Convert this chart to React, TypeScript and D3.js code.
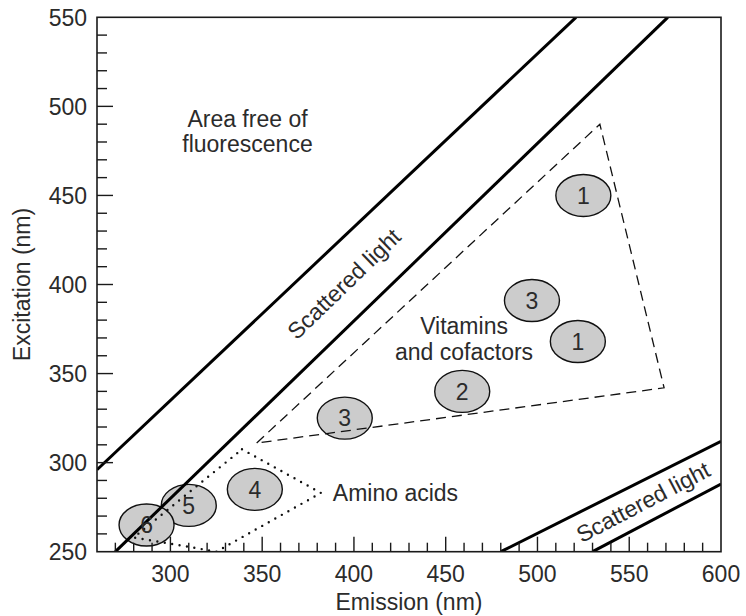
import React, { useEffect, useRef } from 'react';
import * as d3 from 'd3';

// axis ticks
const xTicks = [300, 350, 400, 450, 500, 550, 600];
const yTicks = [250, 300, 350, 400, 450, 500, 550];

// fluorophore spots (emission, excitation)
const spotLabels = ['1', '3', '1', '2', '3', '4', '5', '6'];
const spotEmission = [525, 497, 522, 459, 395, 346, 310, 287];
const spotExcitation = [450, 391, 368, 340, 325, 285, 276, 265];

// scattered light bands
const firstOrderUpper = [[260, 296], [521, 550]];
const firstOrderLower = [[270, 250], [571, 550]];
const secondOrderUpper = [[480, 250], [600, 312]];
const secondOrderLower = [[530, 250], [600, 288]];

// regions
const vitaminRegion = [[347, 311], [534, 490], [569, 342]];
const aminoRegion = [[339, 307.5], [382, 283], [325, 250], [303, 254], [280, 258]];

const W = 746;
const H = 616;
const FONT = '"Liberation Sans", Arial, sans-serif';
const INK = '#2b2b2b';

const App = () => {
  const svgRef = useRef(null);

  useEffect(() => {
    const svg = d3.select(svgRef.current);
    svg.selectAll('*').remove();

    const x = d3.scaleLinear().domain([260, 600]).range([97, 721]);
    const y = d3.scaleLinear().domain([250, 550]).range([551.7, 17.3]);

    svg.append('defs').append('clipPath').attr('id', 'plot-clip')
      .append('rect')
      .attr('x', x(260)).attr('y', y(550))
      .attr('width', x(600) - x(260)).attr('height', y(250) - y(550));

    const plot = svg.append('g').attr('clip-path', 'url(#plot-clip)');

    // ellipses
    const spots = spotLabels.map((l, i) => ({ label: l, em: spotEmission[i], ex: spotExcitation[i] }));
    plot.selectAll('ellipse')
      .data(spots)
      .enter().append('ellipse')
      .attr('cx', d => x(d.em))
      .attr('cy', d => y(d.ex))
      .attr('rx', 27.5)
      .attr('ry', 21)
      .attr('fill', '#cccccc')
      .attr('stroke', '#111')
      .attr('stroke-width', 1.4);

    const line = d3.line().x(d => x(d[0])).y(d => y(d[1]));

    // dotted amino acids region
    plot.append('path')
      .attr('d', line(aminoRegion) + 'Z')
      .attr('fill', 'none')
      .attr('stroke', '#111')
      .attr('stroke-width', 2.4)
      .attr('stroke-linecap', 'round')
      .attr('stroke-dasharray', '0 7.5');

    // dashed vitamins region
    plot.append('path')
      .attr('d', line(vitaminRegion) + 'Z')
      .attr('fill', 'none')
      .attr('stroke', '#111')
      .attr('stroke-width', 1.3)
      .attr('stroke-dasharray', '10 6');

    // scattered light lines
    [firstOrderUpper, firstOrderLower, secondOrderUpper, secondOrderLower].forEach(seg => {
      plot.append('path')
        .attr('d', line(seg))
        .attr('fill', 'none')
        .attr('stroke', '#000')
        .attr('stroke-width', 3);
    });

    // spot labels
    svg.selectAll('.spot-label')
      .data(spots)
      .enter().append('text')
      .attr('class', 'spot-label')
      .attr('x', d => x(d.em))
      .attr('y', d => y(d.ex))
      .attr('dy', '0.36em')
      .attr('text-anchor', 'middle')
      .attr('font-family', FONT)
      .attr('font-size', 23)
      .attr('fill', INK)
      .text(d => d.label);

    // frame
    svg.append('rect')
      .attr('x', x(260)).attr('y', y(550))
      .attr('width', x(600) - x(260)).attr('height', y(250) - y(550))
      .attr('fill', 'none')
      .attr('stroke', '#1a1a1a')
      .attr('stroke-width', 1.6);

    // inward ticks
    const xMinor = d3.range(270, 600, 10);
    svg.append('g').selectAll('line')
      .data(xMinor)
      .enter().append('line')
      .attr('x1', d => x(d)).attr('x2', d => x(d))
      .attr('y1', y(250))
      .attr('y2', d => y(250) - (d % 50 === 0 ? 15 : 9))
      .attr('stroke', '#1a1a1a')
      .attr('stroke-width', 1.4);

    const yMinor = d3.range(260, 550, 10);
    svg.append('g').selectAll('line')
      .data(yMinor)
      .enter().append('line')
      .attr('y1', d => y(d)).attr('y2', d => y(d))
      .attr('x1', x(260))
      .attr('x2', d => x(260) + (d % 50 === 0 ? 16 : 10))
      .attr('stroke', '#1a1a1a')
      .attr('stroke-width', 1.4);

    // tick labels
    svg.append('g').selectAll('text')
      .data(xTicks)
      .enter().append('text')
      .attr('x', d => x(d))
      .attr('y', 581.5)
      .attr('text-anchor', 'middle')
      .attr('font-family', FONT)
      .attr('font-size', 23)
      .attr('fill', INK)
      .text(d => d);

    svg.append('g').selectAll('text')
      .data(yTicks)
      .enter().append('text')
      .attr('x', 87)
      .attr('y', d => y(d))
      .attr('dy', '0.36em')
      .attr('text-anchor', 'end')
      .attr('font-family', FONT)
      .attr('font-size', 23)
      .attr('fill', INK)
      .text(d => d);

    // axis titles
    svg.append('text')
      .attr('x', (x(260) + x(600)) / 2)
      .attr('y', 610)
      .attr('text-anchor', 'middle')
      .attr('font-family', FONT)
      .attr('font-size', 23)
      .attr('fill', INK)
      .text('Emission (nm)');

    svg.append('text')
      .attr('transform', `translate(30, ${(y(250) + y(550)) / 2}) rotate(-90)`)
      .attr('text-anchor', 'middle')
      .attr('font-family', FONT)
      .attr('font-size', 23)
      .attr('fill', INK)
      .text('Excitation (nm)');

    // annotations
    const note = (lines, em, ex, dyStep = 25) => {
      const t = svg.append('text')
        .attr('text-anchor', 'middle')
        .attr('font-family', FONT)
        .attr('font-size', 23)
        .attr('fill', INK);
      lines.forEach((s, i) => {
        t.append('tspan').attr('x', x(em)).attr('y', y(ex) + i * dyStep).text(s);
      });
      return t;
    };

    note(['Area free of', 'fluorescence'], 342, 488.6);
    note(['Vitamins', 'and cofactors'], 460, 372, 26);

    svg.append('text')
      .attr('x', x(388.5))
      .attr('y', y(278.5))
      .attr('font-family', FONT)
      .attr('font-size', 23)
      .attr('fill', INK)
      .text('Amino acids');

    const angleOf = seg => Math.atan2(y(seg[1][1]) - y(seg[0][1]), x(seg[1][0]) - x(seg[0][0])) * 180 / Math.PI;

    const rotated = (label, em, ex, angle) => {
      svg.append('text')
        .attr('transform', `translate(${x(em)}, ${y(ex)}) rotate(${angle})`)
        .attr('text-anchor', 'middle')
        .attr('dy', '0.36em')
        .attr('font-family', FONT)
        .attr('font-size', 23)
        .attr('fill', INK)
        .text(label);
    };

    rotated('Scattered light', 394.5, 400.5, angleOf(firstOrderLower));
    rotated('Scattered light', 557.5, 278, angleOf(secondOrderUpper) - 1);
  }, []);

  return (
    <svg
      ref={svgRef}
      width={W}
      height={H}
      style={{ position: 'absolute', left: 0, top: 0, background: '#fff', display: 'block' }}
    ></svg>
  );
};

export default App;
